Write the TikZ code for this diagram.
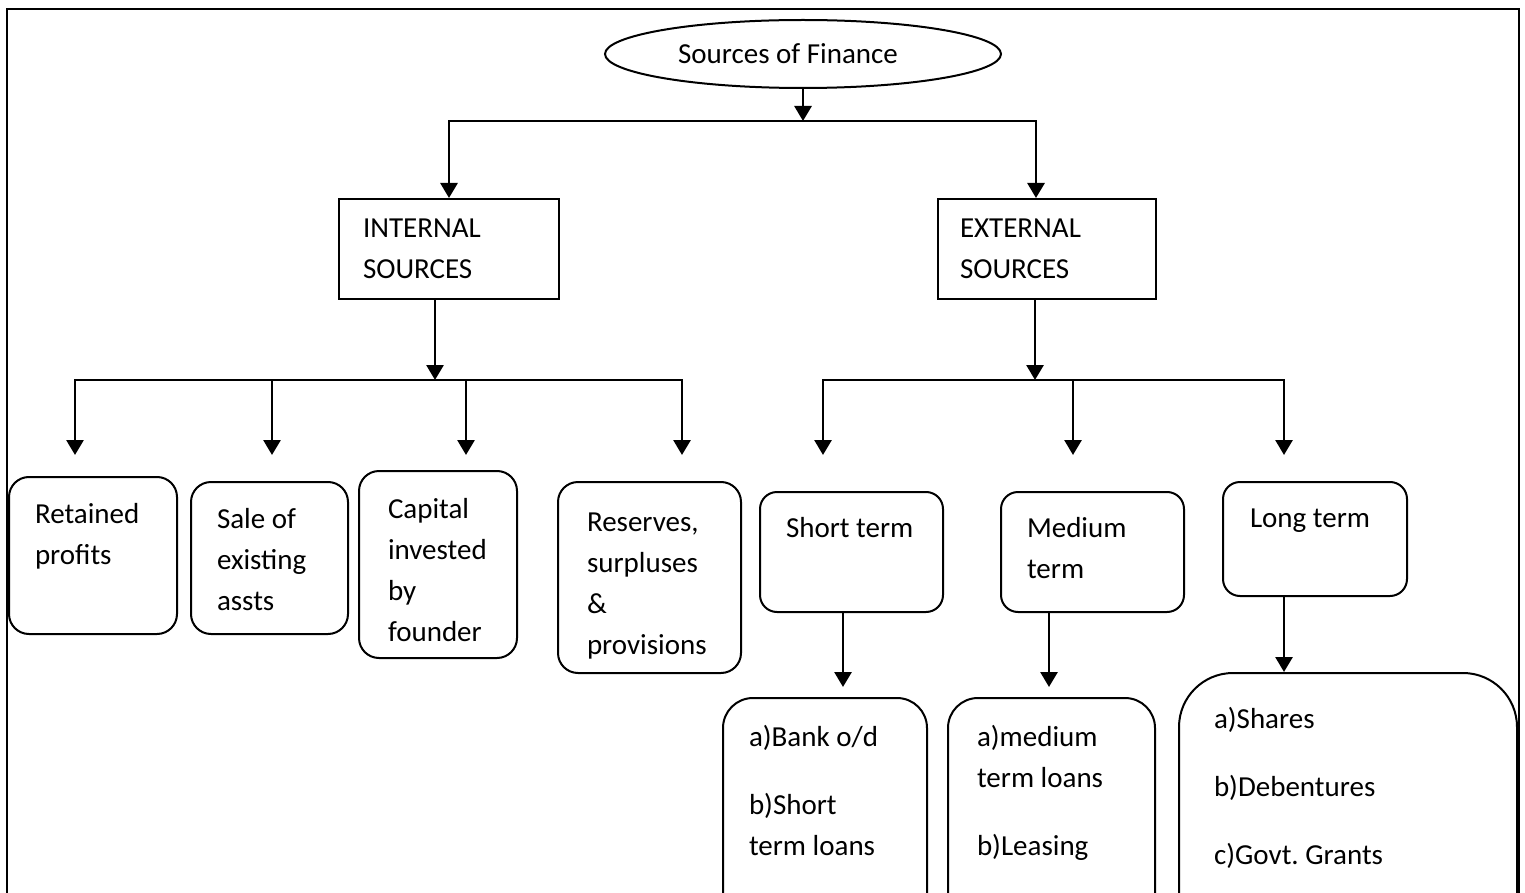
\documentclass[tikz,border=0pt]{standalone}
\usepackage{fontspec}
\setmainfont{Carlito}
\usetikzlibrary{shapes.geometric,arrows.meta}

\begin{document}
\begin{tikzpicture}[
  x=0.5pt, y=-0.5pt,
  every node/.style={font=\fontsize{14.5pt}{20.5pt}\selectfont},
  sqbox/.style={draw,line width=1pt,anchor=north west,inner ysep=0pt,align=flush left},
  rbox/.style={sqbox,rounded corners=10pt},
  tbox/.style={sqbox,rounded corners=8.5pt},
  bigbox/.style={sqbox,rounded corners=15pt},
  line/.style={line width=1.4pt,line cap=rect},
  arr/.style={line,-{Triangle[width=8.5pt,length=7.5pt]}}
]
\useasboundingbox (0,0) rectangle (1525,893);
\clip (0,0) rectangle (1525,893);
\draw[line width=1.4pt] (7,920) -- (7,9) -- (1519,9) -- (1519,920);

% root
\node[draw,ellipse,line width=1pt,minimum width=198pt,minimum height=34pt,inner sep=0pt] (src) at (803,54) {Sources of Finance\hspace*{15pt}};

% internal / external
\node[sqbox,inner xsep=12pt,text width=86pt,text height=19.5pt,text depth=30.5pt] (int) at (338,198) {INTERNAL\\SOURCES};
\node[sqbox,inner xsep=11pt,text width=87pt,text height=19.5pt,text depth=30.5pt] (ext) at (937,198) {EXTERNAL\\SOURCES};

% internal sources
\node[rbox,inner xsep=13pt,text width=58pt,text height=23pt,text depth=55.5pt] (ret) at (8,476) {Retained\\profits};
\node[rbox,inner xsep=13pt,text width=52.5pt,text height=23pt,text depth=53pt] (sale) at (190,481) {Sale of\\existing\\assts};
\node[rbox,inner xsep=14.5pt,text width=50pt,text height=23.5pt,text depth=70pt] (cap) at (358,470) {Capital\\invested\\by\\founder};
\node[rbox,inner xsep=14.5pt,text width=62.5pt,text height=24.5pt,text depth=71pt] (res) at (557,481) {Reserves,\\surpluses\\\&\\provisions};

% external sources
\node[tbox,inner xsep=13pt,text width=65.5pt,text height=22.5pt,text depth=37.5pt] (short) at (759,491) {Short term};
\node[tbox,inner xsep=13pt,text width=65.5pt,text height=22.5pt,text depth=37.5pt] (med) at (1000,491) {Medium\\term};
\node[tbox,inner xsep=13.5pt,text width=65pt,text height=22.5pt,text depth=34.5pt] (long) at (1222,481) {Long term};

\node[bigbox,inner xsep=13pt,text width=76pt,text height=24pt,text depth=110pt] (shortlist) at (722,697) {a)Bank o/d\\[13.5pt]b)Short\\term loans};
\node[bigbox,inner xsep=14.5pt,text width=74.5pt,text height=24pt,text depth=110pt] (medlist) at (947,697) {a)medium\\term loans\\[13.5pt]b)Leasing};
\node[bigbox,rounded corners=27pt,inner xsep=17.5pt,text width=134pt,text height=27.5pt,text depth=120pt] (longlist) at (1178,672) {a)Shares\\[13.5pt]b)Debentures\\[13.5pt]c)Govt.\ Grants};

% connectors
\coordinate (tL) at (449,121);
\coordinate (tR) at (1036,121);
\draw[arr] (src) -- (src |- tL);
\draw[line] (tL) -- (tR);
\draw[arr] (tL) -- (tL |- int.north);
\draw[arr] (tR) -- (tR |- ext.north);

\coordinate (iM) at (435,380);
\coordinate (iL) at (75,380);
\coordinate (iR) at (682,380);
\draw[arr] (iM |- int.south) -- (iM);
\draw[line] (iL) -- (iR);
\foreach \n/\x in {ret/75,sale/272,cap/466,res/682}{
  \coordinate (\n-in) at (\x,455);
  \draw[arr] (\n-in |- iL) -- (\n-in);
}

\coordinate (eM) at (1035,380);
\coordinate (eL) at (823,380);
\coordinate (eR) at (1284,380);
\draw[arr] (eM |- ext.south) -- (eM);
\draw[line] (eL) -- (eR);
\foreach \n/\x in {short/823,med/1073,long/1284}{
  \coordinate (\n-in) at (\x,455);
  \draw[arr] (\n-in |- eL) -- (\n-in);
}

\coordinate (sa) at (843,687);
\coordinate (ma) at (1049,687);
\coordinate (la) at (1284,672);
\draw[arr] (sa |- short.south) -- (sa);
\draw[arr] (ma |- med.south) -- (ma);
\draw[arr] (la |- long.south) -- (la |- longlist.north);
\end{tikzpicture}
\end{document}
